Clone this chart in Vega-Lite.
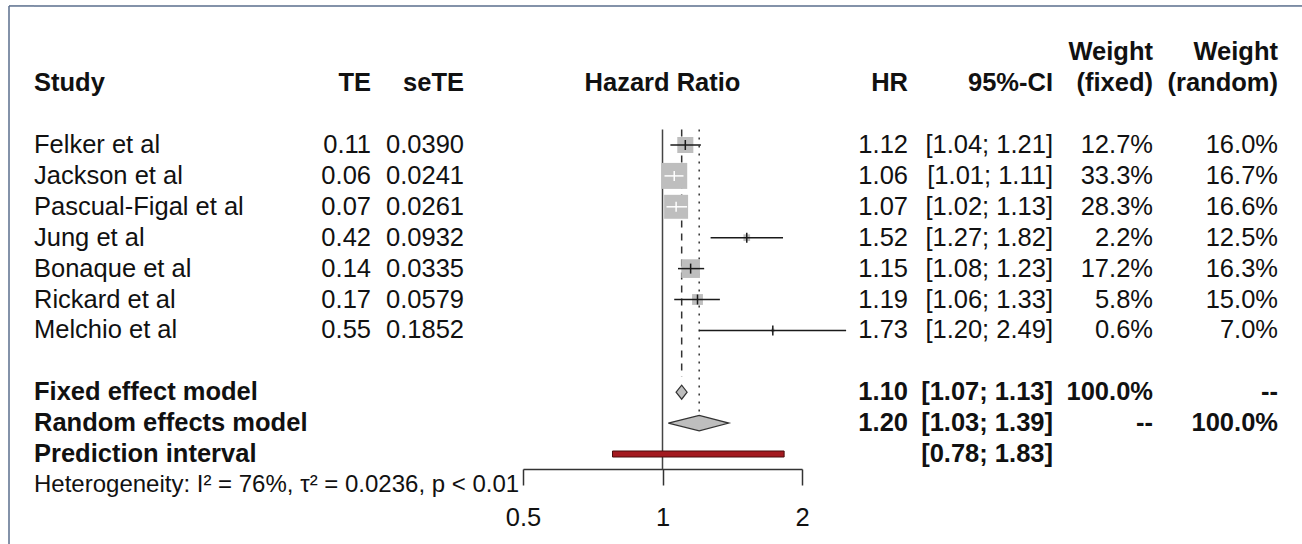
{
"$schema": "https://vega.github.io/schema/vega-lite/v6.json",
"padding": {"left": 8, "top": 0, "right": 0, "bottom": 0},
"bounds": "flush",
"spacing": 0,
"config": {"view": {"stroke": null}, "concat": {"spacing": 0}},
"datasets": {
"studies": [
{"row": "Felker et al", "TE": 0.11, "seTE": 0.0390, "hr": 1.12, "lo": 1.04, "hi": 1.21, "wf": 0.127, "wr": 0.160},
{"row": "Jackson et al", "TE": 0.06, "seTE": 0.0241, "hr": 1.06, "lo": 1.01, "hi": 1.11, "wf": 0.333, "wr": 0.167},
{"row": "Pascual-Figal et al", "TE": 0.07, "seTE": 0.0261, "hr": 1.07, "lo": 1.02, "hi": 1.13, "wf": 0.283, "wr": 0.166},
{"row": "Jung et al", "TE": 0.42, "seTE": 0.0932, "hr": 1.52, "lo": 1.27, "hi": 1.82, "wf": 0.022, "wr": 0.125},
{"row": "Bonaque et al", "TE": 0.14, "seTE": 0.0335, "hr": 1.15, "lo": 1.08, "hi": 1.23, "wf": 0.172, "wr": 0.163},
{"row": "Rickard et al", "TE": 0.17, "seTE": 0.0579, "hr": 1.19, "lo": 1.06, "hi": 1.33, "wf": 0.058, "wr": 0.150},
{"row": "Melchio et al", "TE": 0.55, "seTE": 0.1852, "hr": 1.73, "lo": 1.20, "hi": 2.49, "wf": 0.006, "wr": 0.070}
],
"models": [
{"row": "Fixed effect model", "est": 1.10, "lo": 1.07, "hi": 1.13, "wf": 1.0, "wr": null},
{"row": "Random effects model", "est": 1.20, "lo": 1.03, "hi": 1.39, "wf": null, "wr": 1.0}
],
"pred": [
{"row": "Prediction interval", "lo": 0.78, "hi": 1.83}
],
"headers": [
{"row": "hdr", "col": "study", "label": "Study"},
{"row": "hdr", "col": "te", "label": "TE"},
{"row": "hdr", "col": "sete", "label": "seTE"},
{"row": "hdr", "col": "plot", "label": "Hazard Ratio"},
{"row": "hdr", "col": "hr", "label": "HR"},
{"row": "hdr", "col": "ci", "label": "95%-CI"},
{"row": "w", "col": "wf", "label": "Weight"},
{"row": "hdr", "col": "wf", "label": "(fixed)"},
{"row": "w", "col": "wr", "label": "Weight"},
{"row": "hdr", "col": "wr", "label": "(random)"},
{"row": "Heterogeneity", "col": "het", "label": "Heterogeneity: I² = 76%, τ² = 0.0236, p < 0.01"}
]
},
"hconcat": [
{
"width": 25, "height": 544,
"layer": [
{"data": {"name": "pred"}, "mark": {"type": "rule", "color": "#5a6e8c", "strokeWidth": 1.5},
 "encoding": {"y": {"datum": "top", "type": "nominal", "bandPosition": 0, "axis": null, "scale": {"type": "band", "domain": ["top","w","hdr","b1","Felker et al","Jackson et al","Pascual-Figal et al","Jung et al","Bonaque et al","Rickard et al","Melchio et al","b2","Fixed effect model","Random effects model","Prediction interval","Heterogeneity"], "paddingInner": 0, "paddingOuter": 0.8026, "align": 0.12}}}},
{"data": {"name": "pred"}, "mark": {"type": "rule", "color": "#5a6e8c", "strokeWidth": 1.5},
 "encoding": {"x": {"value": 0}, "y": {"datum": "top", "type": "nominal", "bandPosition": 0, "axis": null, "scale": {"type": "band", "domain": ["top","w","hdr","b1","Felker et al","Jackson et al","Pascual-Figal et al","Jung et al","Bonaque et al","Rickard et al","Melchio et al","b2","Fixed effect model","Random effects model","Prediction interval","Heterogeneity"], "paddingInner": 0, "paddingOuter": 0.8026, "align": 0.12}}, "y2": {"value": "height"}}}
]
},
{
"width": 267, "height": 544,
"encoding": {"y": {"field": "row", "type": "nominal", "axis": null, "scale": {"type": "band", "domain": ["top","w","hdr","b1","Felker et al","Jackson et al","Pascual-Figal et al","Jung et al","Bonaque et al","Rickard et al","Melchio et al","b2","Fixed effect model","Random effects model","Prediction interval","Heterogeneity"], "paddingInner": 0, "paddingOuter": 0.8026, "align": 0.12}}},
"layer": [
{"data": {"name": "pred"}, "mark": {"type": "rule", "color": "#5a6e8c", "strokeWidth": 1.5},
 "encoding": {"y": {"datum": "top", "type": "nominal", "bandPosition": 0}}},
{"data": {"name": "studies"}, "mark": {"type": "text", "align": "left", "baseline": "middle", "font": "Liberation Sans", "fontSize": 25.5, "color": "#111"},
 "encoding": {"x": {"value": 0}, "text": {"field": "row"}}},
{"data": {"name": "models"}, "mark": {"type": "text", "align": "left", "baseline": "middle", "font": "Liberation Sans", "fontSize": 25.5, "fontWeight": "bold", "color": "#111"},
 "encoding": {"x": {"value": 0}, "text": {"field": "row"}}},
{"data": {"name": "pred"}, "mark": {"type": "text", "align": "left", "baseline": "middle", "font": "Liberation Sans", "fontSize": 25.5, "fontWeight": "bold", "color": "#111"},
 "encoding": {"x": {"value": 0}, "text": {"field": "row"}}},
{"data": {"name": "headers"}, "transform": [{"filter": "datum.col === 'study'"}], "mark": {"type": "text", "align": "left", "baseline": "middle", "font": "Liberation Sans", "fontSize": 25.5, "fontWeight": "bold", "color": "#111"},
 "encoding": {"x": {"value": 0}, "text": {"field": "label"}}},
{"data": {"name": "headers"}, "transform": [{"filter": "datum.col === 'het'"}], "mark": {"type": "text", "align": "left", "baseline": "middle", "font": "Liberation Sans", "fontSize": 24, "color": "#111"},
 "encoding": {"x": {"value": 0}, "text": {"field": "label"}}}
]
},
{
"width": 70, "height": 544,
"encoding": {"y": {"field": "row", "type": "nominal", "axis": null, "scale": {"type": "band", "domain": ["top","w","hdr","b1","Felker et al","Jackson et al","Pascual-Figal et al","Jung et al","Bonaque et al","Rickard et al","Melchio et al","b2","Fixed effect model","Random effects model","Prediction interval","Heterogeneity"], "paddingInner": 0, "paddingOuter": 0.8026, "align": 0.12}}},
"layer": [
{"data": {"name": "pred"}, "mark": {"type": "rule", "color": "#5a6e8c", "strokeWidth": 1.5},
 "encoding": {"y": {"datum": "top", "type": "nominal", "bandPosition": 0}}},
{"data": {"name": "studies"}, "mark": {"type": "text", "align": "right", "baseline": "middle", "font": "Liberation Sans", "fontSize": 25.5, "color": "#111"},
 "encoding": {"x": {"value": "width"}, "text": {"field": "TE", "format": ".2f"}}},
{"data": {"name": "headers"}, "transform": [{"filter": "datum.col === 'te'"}], "mark": {"type": "text", "align": "right", "baseline": "middle", "font": "Liberation Sans", "fontSize": 25.5, "fontWeight": "bold", "color": "#111"},
 "encoding": {"x": {"value": "width"}, "text": {"field": "label"}}}
]
},
{
"width": 93, "height": 544,
"encoding": {"y": {"field": "row", "type": "nominal", "axis": null, "scale": {"type": "band", "domain": ["top","w","hdr","b1","Felker et al","Jackson et al","Pascual-Figal et al","Jung et al","Bonaque et al","Rickard et al","Melchio et al","b2","Fixed effect model","Random effects model","Prediction interval","Heterogeneity"], "paddingInner": 0, "paddingOuter": 0.8026, "align": 0.12}}},
"layer": [
{"data": {"name": "pred"}, "mark": {"type": "rule", "color": "#5a6e8c", "strokeWidth": 1.5},
 "encoding": {"y": {"datum": "top", "type": "nominal", "bandPosition": 0}}},
{"data": {"name": "studies"}, "mark": {"type": "text", "align": "right", "baseline": "middle", "font": "Liberation Sans", "fontSize": 25.5, "color": "#111"},
 "encoding": {"x": {"value": "width"}, "text": {"field": "seTE", "format": ".4f"}}},
{"data": {"name": "headers"}, "transform": [{"filter": "datum.col === 'sete'"}], "mark": {"type": "text", "align": "right", "baseline": "middle", "font": "Liberation Sans", "fontSize": 25.5, "fontWeight": "bold", "color": "#111"},
 "encoding": {"x": {"value": "width"}, "text": {"field": "label"}}}
]
},
{
"width": 387, "height": 544,
"resolve": {"scale": {"size": "independent"}},
"encoding": {"y": {"field": "row", "type": "nominal", "axis": null, "bandPosition": 0.5, "scale": {"type": "band", "domain": ["top","w","hdr","b1","Felker et al","Jackson et al","Pascual-Figal et al","Jung et al","Bonaque et al","Rickard et al","Melchio et al","b2","Fixed effect model","Random effects model","Prediction interval","Heterogeneity"], "paddingInner": 0, "paddingOuter": 0.8026, "align": 0.12}}},
"layer": [
{"data": {"name": "pred"}, "mark": {"type": "rule", "color": "#5a6e8c", "strokeWidth": 1.5},
 "encoding": {"y": {"datum": "top", "type": "nominal", "bandPosition": 0}}},
{"data": {"name": "pred"}, "mark": {"type": "rule", "color": "#444", "strokeWidth": 1.5},
 "encoding": {
  "x": {"datum": 1, "type": "quantitative", "scale": {"type": "log", "domain": [0.5, 2], "range": [59, 338], "nice": false},
        "axis": {"values": [0.5, 1, 2], "format": "~g", "orient": "bottom", "offset": -75, "tickSize": 16, "tickWidth": 1.5, "tickColor": "#333", "domainColor": "#333", "domainWidth": 1.5, "labelFont": "Liberation Sans", "labelFontSize": 25.5, "labelColor": "#111", "labelPadding": 20, "labelFlush": false, "labelOverlap": false, "grid": false, "title": null}},
  "y": {"datum": "Felker et al", "type": "nominal", "bandPosition": 0},
  "y2": {"datum": "Prediction interval", "bandPosition": 1}}},
{"data": {"name": "models"}, "transform": [{"filter": "datum.row === 'Fixed effect model'"}],
 "mark": {"type": "rule", "color": "#333", "strokeWidth": 1.5, "strokeDash": [7, 6]},
 "encoding": {"x": {"field": "est", "type": "quantitative", "title": null},
  "y": {"datum": "Felker et al", "type": "nominal", "bandPosition": 0},
  "y2": {"datum": "Fixed effect model", "bandPosition": 0}}},
{"data": {"name": "models"}, "transform": [{"filter": "datum.row === 'Random effects model'"}],
 "mark": {"type": "rule", "color": "#333", "strokeWidth": 1.5, "strokeDash": [2, 6]},
 "encoding": {"x": {"field": "est", "type": "quantitative", "title": null},
  "y": {"datum": "Felker et al", "type": "nominal", "bandPosition": 0},
  "y2": {"datum": "Random effects model", "bandPosition": 0.26}}},
{"data": {"name": "studies"}, "mark": {"type": "point", "shape": "square", "filled": true, "color": "#bebebe", "opacity": 1},
 "encoding": {"x": {"field": "hr", "type": "quantitative", "title": null},
  "size": {"field": "wf", "type": "quantitative", "legend": null, "scale": {"type": "linear", "domain": [0, 1], "range": [0, 2030]}}}},
{"data": {"name": "studies"}, "mark": {"type": "rule", "strokeWidth": 1.5},
 "encoding": {"x": {"field": "lo", "type": "quantitative", "title": null}, "x2": {"field": "hi"},
  "color": {"condition": {"test": "datum.row === 'Jackson et al' || datum.row === 'Pascual-Figal et al'", "value": "white"}, "value": "#1a1a1a"}}},
{"data": {"name": "studies"}, "mark": {"type": "point", "shape": "M0,-1L0,1", "size": 100, "filled": false, "strokeWidth": 1.5, "opacity": 1},
 "encoding": {"x": {"field": "hr", "type": "quantitative", "title": null},
  "color": {"condition": {"test": "datum.row === 'Jackson et al' || datum.row === 'Pascual-Figal et al'", "value": "white"}, "value": "#1a1a1a"}}},
{"data": {"name": "pred"}, "mark": {"type": "bar", "height": 6, "color": "#a3191f", "stroke": "#4a0d0d", "strokeWidth": 1},
 "encoding": {"x": {"field": "lo", "type": "quantitative", "title": null}, "x2": {"field": "hi"}}},
{"data": {"name": "models"},
 "mark": {"type": "point", "filled": true, "size": 196, "color": "#bebebe", "stroke": "#333", "strokeWidth": 1.2, "opacity": 1},
 "encoding": {"x": {"field": "est", "type": "quantitative", "title": null},
  "shape": {"field": "row", "type": "nominal", "legend": null, "scale": {"domain": ["Fixed effect model", "Random effects model"], "range": ["M-0.797,0L0,-1L0.776,0L0,1Z", "M-4.408,0L0,-1.1L4.24,0L0,1.1Z"]}}}},
{"data": {"name": "headers"}, "transform": [{"filter": "datum.col === 'plot'"}],
 "mark": {"type": "text", "align": "center", "baseline": "middle", "font": "Liberation Sans", "fontSize": 25.5, "fontWeight": "bold", "color": "#111"},
 "encoding": {"x": {"datum": 1, "type": "quantitative"}, "text": {"field": "label"}}}
]
},
{
"width": 57, "height": 544,
"encoding": {"y": {"field": "row", "type": "nominal", "axis": null, "scale": {"type": "band", "domain": ["top","w","hdr","b1","Felker et al","Jackson et al","Pascual-Figal et al","Jung et al","Bonaque et al","Rickard et al","Melchio et al","b2","Fixed effect model","Random effects model","Prediction interval","Heterogeneity"], "paddingInner": 0, "paddingOuter": 0.8026, "align": 0.12}}},
"layer": [
{"data": {"name": "pred"}, "mark": {"type": "rule", "color": "#5a6e8c", "strokeWidth": 1.5},
 "encoding": {"y": {"datum": "top", "type": "nominal", "bandPosition": 0}}},
{"data": {"name": "studies"}, "mark": {"type": "text", "align": "right", "baseline": "middle", "font": "Liberation Sans", "fontSize": 25.5, "color": "#111"},
 "encoding": {"x": {"value": "width"}, "text": {"field": "hr", "format": ".2f"}}},
{"data": {"name": "models"}, "mark": {"type": "text", "align": "right", "baseline": "middle", "font": "Liberation Sans", "fontSize": 25.5, "fontWeight": "bold", "color": "#111"},
 "encoding": {"x": {"value": "width"}, "text": {"field": "est", "format": ".2f"}}},
{"data": {"name": "headers"}, "transform": [{"filter": "datum.col === 'hr'"}], "mark": {"type": "text", "align": "right", "baseline": "middle", "font": "Liberation Sans", "fontSize": 25.5, "fontWeight": "bold", "color": "#111"},
 "encoding": {"x": {"value": "width"}, "text": {"field": "label"}}}
]
},
{
"width": 145, "height": 544,
"encoding": {"y": {"field": "row", "type": "nominal", "axis": null, "scale": {"type": "band", "domain": ["top","w","hdr","b1","Felker et al","Jackson et al","Pascual-Figal et al","Jung et al","Bonaque et al","Rickard et al","Melchio et al","b2","Fixed effect model","Random effects model","Prediction interval","Heterogeneity"], "paddingInner": 0, "paddingOuter": 0.8026, "align": 0.12}}},
"layer": [
{"data": {"name": "pred"}, "mark": {"type": "rule", "color": "#5a6e8c", "strokeWidth": 1.5},
 "encoding": {"y": {"datum": "top", "type": "nominal", "bandPosition": 0}}},
{"data": {"name": "studies"}, "mark": {"type": "text", "align": "right", "baseline": "middle", "font": "Liberation Sans", "fontSize": 25.5, "color": "#111", "text": {"expr": "'[' + format(datum.lo, '.2f') + '; ' + format(datum.hi, '.2f') + ']'"}},
 "encoding": {"x": {"value": "width"}}},
{"data": {"name": "models"}, "mark": {"type": "text", "align": "right", "baseline": "middle", "font": "Liberation Sans", "fontSize": 25.5, "fontWeight": "bold", "color": "#111", "text": {"expr": "'[' + format(datum.lo, '.2f') + '; ' + format(datum.hi, '.2f') + ']'"}},
 "encoding": {"x": {"value": "width"}}},
{"data": {"name": "pred"}, "mark": {"type": "text", "align": "right", "baseline": "middle", "font": "Liberation Sans", "fontSize": 25.5, "fontWeight": "bold", "color": "#111", "text": {"expr": "'[' + format(datum.lo, '.2f') + '; ' + format(datum.hi, '.2f') + ']'"}},
 "encoding": {"x": {"value": "width"}}},
{"data": {"name": "headers"}, "transform": [{"filter": "datum.col === 'ci'"}], "mark": {"type": "text", "align": "right", "baseline": "middle", "font": "Liberation Sans", "fontSize": 25.5, "fontWeight": "bold", "color": "#111"},
 "encoding": {"x": {"value": "width"}, "text": {"field": "label"}}}
]
},
{
"width": 100, "height": 544,
"encoding": {"y": {"field": "row", "type": "nominal", "axis": null, "scale": {"type": "band", "domain": ["top","w","hdr","b1","Felker et al","Jackson et al","Pascual-Figal et al","Jung et al","Bonaque et al","Rickard et al","Melchio et al","b2","Fixed effect model","Random effects model","Prediction interval","Heterogeneity"], "paddingInner": 0, "paddingOuter": 0.8026, "align": 0.12}}},
"layer": [
{"data": {"name": "pred"}, "mark": {"type": "rule", "color": "#5a6e8c", "strokeWidth": 1.5},
 "encoding": {"y": {"datum": "top", "type": "nominal", "bandPosition": 0}}},
{"data": {"name": "studies"}, "mark": {"type": "text", "align": "right", "baseline": "middle", "font": "Liberation Sans", "fontSize": 25.5, "color": "#111"},
 "encoding": {"x": {"value": "width"}, "text": {"field": "wf", "format": ".1%"}}},
{"data": {"name": "models"}, "mark": {"type": "text", "align": "right", "baseline": "middle", "font": "Liberation Sans", "fontSize": 25.5, "fontWeight": "bold", "color": "#111", "text": {"expr": "datum.wf == null ? '--' : format(datum.wf, '.1%')"}},
 "encoding": {"x": {"value": "width"}}},
{"data": {"name": "headers"}, "transform": [{"filter": "datum.col === 'wf'"}], "mark": {"type": "text", "align": "right", "baseline": "middle", "font": "Liberation Sans", "fontSize": 25.5, "fontWeight": "bold", "color": "#111"},
 "encoding": {"x": {"value": "width"}, "text": {"field": "label"}}}
]
},
{
"width": 125, "height": 544,
"encoding": {"y": {"field": "row", "type": "nominal", "axis": null, "scale": {"type": "band", "domain": ["top","w","hdr","b1","Felker et al","Jackson et al","Pascual-Figal et al","Jung et al","Bonaque et al","Rickard et al","Melchio et al","b2","Fixed effect model","Random effects model","Prediction interval","Heterogeneity"], "paddingInner": 0, "paddingOuter": 0.8026, "align": 0.12}}},
"layer": [
{"data": {"name": "pred"}, "mark": {"type": "rule", "color": "#5a6e8c", "strokeWidth": 1.5},
 "encoding": {"y": {"datum": "top", "type": "nominal", "bandPosition": 0}}},
{"data": {"name": "studies"}, "mark": {"type": "text", "align": "right", "baseline": "middle", "font": "Liberation Sans", "fontSize": 25.5, "color": "#111"},
 "encoding": {"x": {"value": "width"}, "text": {"field": "wr", "format": ".1%"}}},
{"data": {"name": "models"}, "mark": {"type": "text", "align": "right", "baseline": "middle", "font": "Liberation Sans", "fontSize": 25.5, "fontWeight": "bold", "color": "#111", "text": {"expr": "datum.wr == null ? '--' : format(datum.wr, '.1%')"}},
 "encoding": {"x": {"value": "width"}}},
{"data": {"name": "headers"}, "transform": [{"filter": "datum.col === 'wr'"}], "mark": {"type": "text", "align": "right", "baseline": "middle", "font": "Liberation Sans", "fontSize": 25.5, "fontWeight": "bold", "color": "#111"},
 "encoding": {"x": {"value": "width"}, "text": {"field": "label"}}}
]
},
{
"width": 25, "height": 544,
"layer": [
{"data": {"name": "pred"}, "mark": {"type": "rule", "color": "#5a6e8c", "strokeWidth": 1.5},
 "encoding": {"y": {"datum": "top", "type": "nominal", "bandPosition": 0, "axis": null, "scale": {"type": "band", "domain": ["top","w","hdr","b1","Felker et al","Jackson et al","Pascual-Figal et al","Jung et al","Bonaque et al","Rickard et al","Melchio et al","b2","Fixed effect model","Random effects model","Prediction interval","Heterogeneity"], "paddingInner": 0, "paddingOuter": 0.8026, "align": 0.12}}}}
]
}
]
}
